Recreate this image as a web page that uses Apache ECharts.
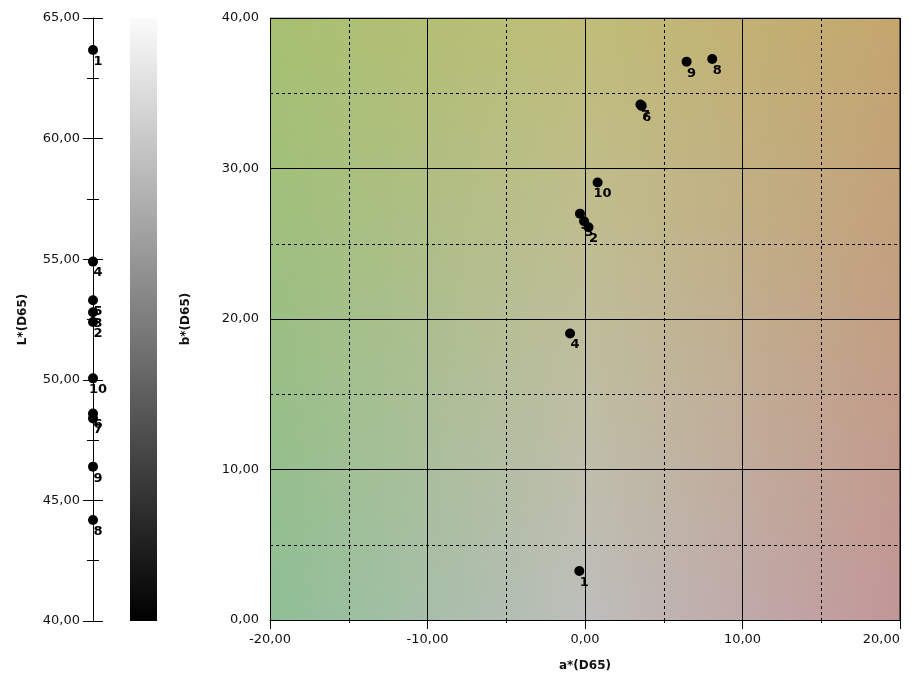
<!DOCTYPE html>
<html><head><meta charset="utf-8">
<script src="https://cdn.jsdelivr.net/npm/echarts@6/dist/echarts.min.js"></script>
<style>html,body{margin:0;padding:0;background:#fff}#c{width:922px;height:677px}</style>
</head><body><div id="c"></div>
<script>
const pointIds = ['1','2','3','4','5','7','6','8','9','10'];
const aValues = [-0.36, 0.22, -0.06, -0.95, -0.32, 3.52, 3.60, 8.08, 6.45, 0.80];
const bValues = [3.25, 26.10, 26.50, 19.04, 27.00, 34.25, 34.16, 37.28, 37.10, 29.07];
const lValues = [63.67, 52.40, 52.80, 54.90, 53.30, 48.40, 48.60, 44.19, 46.40, 50.06];
const aTicks = [-20, -10, 0, 10, 20];
const bTicks = [0, 10, 20, 30, 40];
const lTicks = [40, 45, 50, 55, 60, 65];

const FONT = 'DejaVu Sans';
const fmt = v => v.toFixed(2).replace('.', ',');

// background colour plane: control colours at a = -20, 0, 20 (columns) and b = 40, 0 (rows)
const bgTop = [[167,192,112],[192,189,120],[196,166,110]];
const bgBottom = [[143,191,150],[190,190,188],[194,150,152]];
const BW = 630, BH = 603;
const bg = document.createElement('canvas');
bg.width = BW; bg.height = BH;
(function(){
  const ctx = bg.getContext('2d');
  const img = ctx.createImageData(BW, BH);
  const lerp = (p, q, t) => p + (q - p) * t;
  for (let y = 0; y < BH; y++) {
    const ty = y / (BH - 1);
    for (let x = 0; x < BW; x++) {
      const tx = x / (BW - 1) * 2;
      const k = tx < 1 ? 0 : 1, f = tx - k;
      const i = (y * BW + x) * 4;
      for (let c = 0; c < 3; c++) {
        const top = lerp(bgTop[k][c], bgTop[k+1][c], f);
        const bot = lerp(bgBottom[k][c], bgBottom[k+1][c], f);
        img.data[i+c] = Math.round(lerp(top, bot, ty));
      }
      img.data[i+3] = 255;
    }
  }
  ctx.putImageData(img, 0, 0);
})();

const chart = echarts.init(document.getElementById('c'), null, {renderer: 'canvas'});
const labelStyle = {show: true, formatter: p => pointIds[p.dataIndex], position: [10, 16.5], align: 'center', verticalAlign: 'middle', color: '#000', fontFamily: FONT, fontSize: 13, fontWeight: 'bold'};
const axisLbl = {color: '#111', fontFamily: FONT, fontSize: 13, formatter: fmt};
const nameStyle = {color: '#111', fontFamily: FONT, fontSize: 12, fontWeight: 'bold'};

chart.setOption({
  animation: false,
  graphic: {elements: [
    {type: 'image', z: -10, style: {image: bg, x: 270, y: 18, width: BW, height: BH}},
    {type: 'rect', shape: {x: 130, y: 18, width: 27, height: 603},
     style: {fill: new echarts.graphic.LinearGradient(0, 0, 0, 1, [{offset: 0, color: '#fbfbfb'}, {offset: 1, color: '#000'}])}}
  ]},
  grid: [
    {left: 93, top: 18, bottom: 56, width: 20, containLabel: false},
    {left: 270, right: 22, top: 18, bottom: 56, containLabel: false}
  ],
  xAxis: [
    {gridIndex: 0, type: 'value', min: 0, max: 2, show: false},
    {gridIndex: 1, type: 'value', min: aTicks[0], max: aTicks[aTicks.length-1], interval: 10,
     name: 'a*(D65)', nameLocation: 'middle', nameGap: 40, nameTextStyle: nameStyle,
     axisLine: {lineStyle: {color: '#000'}}, axisTick: {length: 9, lineStyle: {color: '#000'}},
     minorTick: {show: true, splitNumber: 2, length: 6, lineStyle: {color: '#000', type: [3, 3]}},
     splitLine: {show: true, lineStyle: {color: '#000', width: 1}},
     minorSplitLine: {show: true, lineStyle: {color: '#000', type: [3, 3], width: 1}},
     axisLabel: Object.assign({margin: 13, alignMaxLabel: 'right'}, axisLbl)}
  ],
  yAxis: [
    {gridIndex: 0, type: 'value', position: 'left', min: lTicks[0], max: lTicks[lTicks.length-1], interval: 5,
     name: 'L*(D65)', nameLocation: 'middle', nameGap: 64, nameTextStyle: nameStyle,
     axisLine: {show: true, lineStyle: {color: '#000'}}, axisTick: {show: true, length: 10, lineStyle: {color: '#000'}},
     minorTick: {show: true, splitNumber: 2, length: 6, lineStyle: {color: '#000'}},
     splitLine: {show: false}, axisLabel: Object.assign({margin: 13}, axisLbl)},
    {gridIndex: 0, type: 'value', position: 'left', min: lTicks[0], max: lTicks[lTicks.length-1], interval: 5,
     axisLine: {show: false}, axisTick: {show: true, inside: true, length: 10, lineStyle: {color: '#000'}},
     minorTick: {show: true, splitNumber: 2, length: 6, lineStyle: {color: '#000'}},
     splitLine: {show: false}, axisLabel: {show: false}},
    {gridIndex: 1, type: 'value', min: bTicks[0], max: bTicks[bTicks.length-1], interval: 10,
     name: 'b*(D65)', nameLocation: 'middle', nameGap: 78, nameTextStyle: nameStyle,
     axisLine: {show: true, lineStyle: {color: '#000'}}, axisTick: {show: true, length: 8, lineStyle: {color: '#000'}},
     minorTick: {show: true, splitNumber: 2, length: 6, lineStyle: {color: '#000', type: [3, 3]}},
     splitLine: {show: true, lineStyle: {color: '#000', width: 1}},
     minorSplitLine: {show: true, lineStyle: {color: '#000', type: [3, 3], width: 1}},
     axisLabel: Object.assign({margin: 11}, axisLbl)}
  ],
  series: [
    {type: 'scatter', xAxisIndex: 0, yAxisIndex: 0, clip: false, symbol: 'circle', symbolSize: 10,
     itemStyle: {color: '#000', opacity: 1}, label: labelStyle, z: 5,
     data: lValues.map(v => [0, v])},
    {type: 'scatter', xAxisIndex: 1, yAxisIndex: 2, clip: false, symbol: 'circle', symbolSize: 10,
     itemStyle: {color: '#000', opacity: 1}, label: labelStyle, z: 5,
     data: aValues.map((a, i) => [a, bValues[i]])},
    {type: 'line', xAxisIndex: 1, yAxisIndex: 2, silent: true, symbol: 'none', z: 4,
     lineStyle: {color: '#000', width: 1},
     data: [[aTicks[0], bTicks[bTicks.length-1]], [aTicks[aTicks.length-1], bTicks[bTicks.length-1]], [aTicks[aTicks.length-1], bTicks[0]]]}
  ]
});
</script></body></html>
